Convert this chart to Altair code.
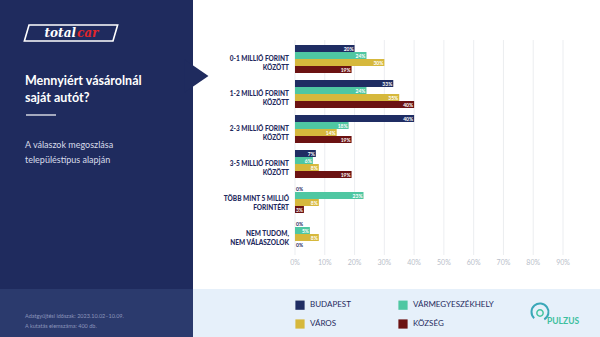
import altair as alt
import pandas as pd

# ---- data ----
categories = ["0-1", "1-2", "2-3", "3-5", "5+", "NT"]
category_lines = [
    ["0-1 MILLIÓ FORINT", "KÖZÖTT"],
    ["1-2 MILLIÓ FORINT", "KÖZÖTT"],
    ["2-3 MILLIÓ FORINT", "KÖZÖTT"],
    ["3-5 MILLIÓ FORINT", "KÖZÖTT"],
    ["TÖBB MINT 5 MILLIÓ", "FORINTÉRT"],
    ["NEM TUDOM,", "NEM VÁLASZOLOK"],
]
series = ["BUDAPEST", "VÁRMEGYESZÉKHELY", "VÁROS", "KÖZSÉG"]
budapest = [20, 33, 40, 7, 0, 0]
varmegye = [24, 24, 18, 6, 23, 5]
varos = [30, 35, 14, 8, 8, 8]
kozseg = [19, 40, 19, 19, 3, 0]
tick_values = [0, 10, 20, 30, 40, 50, 60, 70, 80, 90]
colors = ["#1f2d63", "#4fc7a2", "#d6b83c", "#6b1212"]

NAVY = "#1f2b5e"
FONT = "Lato"

rows = []
for s, vals in zip(series, [budapest, varmegye, varos, kozseg]):
    for c, v in zip(categories, vals):
        rows.append({"cat": c, "series": s, "value": v / 100, "label": f"{v}%"})
bars_df = pd.DataFrame(rows)
cat_df = pd.DataFrame({"cat": categories, "lines": category_lines})
tick_df = pd.DataFrame({"t": [t / 100 for t in tick_values], "lab": [f"{t}%" for t in tick_values]})
one = pd.DataFrame({"a": [0]})

xscale = alt.Scale(domain=[0, 0.9], range=[295, 563], nice=False, zero=True)
yscale = alt.Scale(domain=categories, range=[41.5, 251.5], paddingInner=0.2, paddingOuter=0.1)
colscale = alt.Scale(domain=series, range=colors)
yoff = alt.YOffset("series:N", sort=series, scale=alt.Scale(domain=series, paddingInner=0, paddingOuter=0))

# ---- decorations ----
left_panel = alt.Chart(one).mark_rect(color=NAVY).encode(
    x=alt.value(0), x2=alt.value(193), y=alt.value(0), y2=alt.value(289))
left_bottom = alt.Chart(one).mark_rect(color="#2b3a6d").encode(
    x=alt.value(0), x2=alt.value(193), y=alt.value(289), y2=alt.value(337))
right_bottom = alt.Chart(one).mark_rect(color="#e6f0fa").encode(
    x=alt.value(193), x2=alt.value(600), y=alt.value(289), y2=alt.value(337))
arrow = alt.Chart(one).mark_point(
    shape="M -1 -1 L 0.45 0 L -1 1 Z", filled=True, color=NAVY, opacity=1, strokeWidth=0, size=1100
).encode(x=alt.value(201), y=alt.value(76))

logo_box = alt.Chart(one).mark_point(
    shape="M -0.9 -0.17 L 1 -0.17 L 0.9 0.17 L -1 0.17 Z", filled=False, color="white",
    strokeWidth=1.6, size=8700, opacity=1
).encode(x=alt.value(71), y=alt.value(33))
logo_total = alt.Chart(one).mark_text(
    text="total", font="DejaVu Serif", fontSize=12, fontWeight="bold", fontStyle="italic",
    color="white", align="right", baseline="middle"
).encode(x=alt.value(76), y=alt.value(33))
logo_car = alt.Chart(one).mark_text(
    text="car", font="DejaVu Serif", fontSize=12, fontWeight="bold", fontStyle="italic",
    color="#e0262b", align="left", baseline="middle"
).encode(x=alt.value(77), y=alt.value(33))

title = alt.Chart(one).mark_text(
    text=["Mennyiért vásárolnál", "saját autót?"], font=FONT, fontSize=12.5, fontWeight="bold",
    color="white", align="left", baseline="middle", lineHeight=17
).encode(x=alt.value(25), y=alt.value(80.5))
sep = alt.Chart(one).mark_rule(color="white", strokeWidth=1.2).encode(
    x=alt.value(26), x2=alt.value(56), y=alt.value(115))
subtitle = alt.Chart(one).mark_text(
    text=["A válaszok megoszlása", "településtípus alapján"], font=FONT, fontSize=9,
    color="#d9dcea", align="left", baseline="middle", lineHeight=15
).encode(x=alt.value(25), y=alt.value(144.5))
footer = alt.Chart(one).mark_text(
    text=["Adatgyűjtési időszak: 2023.10.02–10.09.", "A kutatás elemszáma: 400 db."], font=FONT,
    fontSize=5.5, color="#8c95bb", align="left", baseline="middle", lineHeight=10
).encode(x=alt.value(25), y=alt.value(315.5))

pulzus_o = alt.Chart(one).mark_arc(
    theta=3.9, theta2=8.9, radius=9.5, radius2=7.5, color="#3aa7b8"
).encode(x=alt.value(540), y=alt.value(312))
pulzus_i = alt.Chart(one).mark_point(
    shape="circle", filled=False, color="#45c4a0", strokeWidth=1.5, size=40, opacity=1
).encode(x=alt.value(540), y=alt.value(313))
pulzus = alt.Chart(one).mark_text(
    text="PULZUS", font=FONT, fontSize=8.5, fontWeight="bold", color="#3dbf9f",
    align="left", baseline="middle"
).encode(x=alt.value(547), y=alt.value(321))

# ---- chart ----
grid = alt.Chart(tick_df).mark_rule(color="#e6e8ec", strokeWidth=0.8).encode(
    x=alt.X("t:Q", scale=xscale, axis=None), y=alt.value(40), y2=alt.value(255))
ticks = alt.Chart(tick_df).mark_text(
    font=FONT, fontSize=7, color="#b9bec9", baseline="middle", align="center"
).encode(x=alt.X("t:Q", scale=xscale, axis=None), y=alt.value(263), text="lab:N")

bars = alt.Chart(bars_df).mark_bar(size=7).encode(
    x=alt.X("value:Q", scale=xscale, axis=None),
    y=alt.Y("cat:N", scale=yscale, axis=None, sort=categories),
    yOffset=yoff,
    color=alt.Color("series:N", scale=colscale, legend=alt.Legend(
        title=None, orient="none", legendX=295, legendY=300, columns=2, direction="horizontal",
        symbolType="square", symbolSize=85, symbolStrokeWidth=0, symbolOpacity=1,
        labelFont=FONT, labelFontSize=8, labelColor=NAVY, columnPadding=47, rowPadding=9,
        labelOffset=5)),
)
inlab = alt.Chart(bars_df).transform_filter("datum.value > 0").mark_text(
    font=FONT, fontSize=5, fontWeight="bold", color="white", align="right", baseline="middle", dx=-1
).encode(
    x=alt.X("value:Q", scale=xscale, axis=None),
    y=alt.Y("cat:N", scale=yscale, axis=None, sort=categories),
    yOffset=yoff, text="label:N")
zerolab = alt.Chart(bars_df).transform_filter("datum.value == 0").mark_text(
    font=FONT, fontSize=5, fontWeight="bold", color=NAVY, align="left", baseline="middle", dx=1
).encode(
    x=alt.X("value:Q", scale=xscale, axis=None),
    y=alt.Y("cat:N", scale=yscale, axis=None, sort=categories),
    yOffset=yoff, text="label:N")
catlab = alt.Chart(cat_df).mark_text(
    font=FONT, fontSize=6.5, fontWeight=900, color=NAVY, align="right", baseline="middle", lineHeight=8.5
).encode(
    x=alt.value(289),
    y=alt.Y("cat:N", scale=yscale, axis=None, sort=categories),
    text="lines")

chart = alt.layer(
    left_panel, left_bottom, right_bottom, arrow, logo_box, logo_total, logo_car,
    title, sep, subtitle, footer, pulzus_o, pulzus_i, pulzus,
    grid, ticks, bars, inlab, zerolab, catlab
).properties(
    width=600, height=337, padding=0, background="white",
    autosize=alt.AutoSizeParams(type="none")
).configure_view(stroke=None)

chart.save("out.html", embed_options={"renderer": "svg", "actions": False})
